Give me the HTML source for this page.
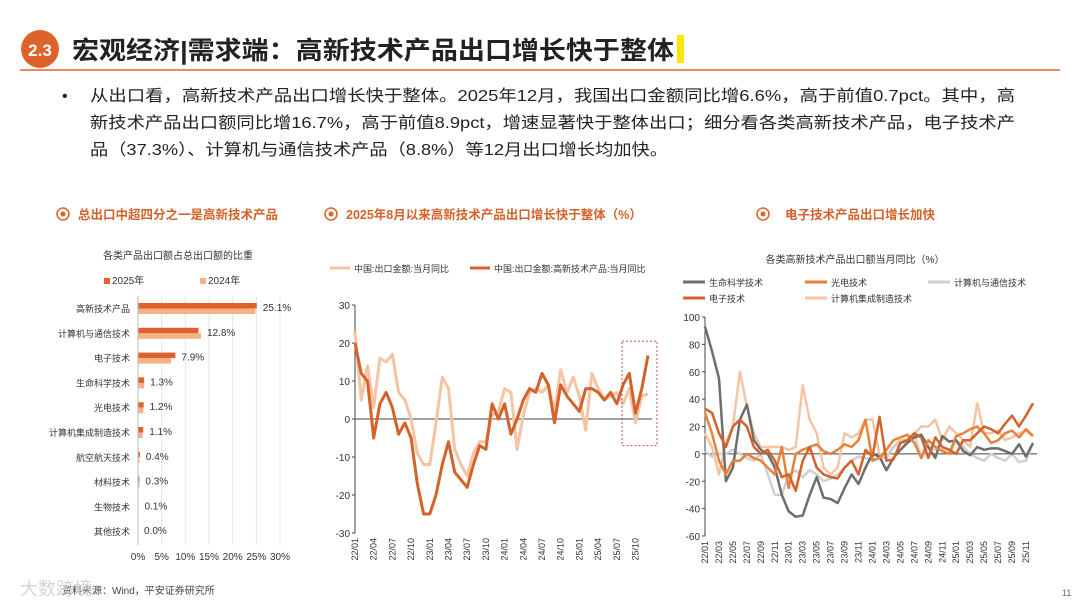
<!DOCTYPE html>
<html><head><meta charset="utf-8"><style>
html,body{margin:0;padding:0;background:#fff;}
svg{display:block;font-family:"Liberation Sans","Noto Sans CJK SC",sans-serif;}
</style></head><body>
<svg id="s" width="1080" height="608" viewBox="0 0 1080 608">
<g>
 <circle cx="40" cy="49" r="19" fill="#e0622b"/>
 <text x="40" y="56" font-size="17" font-weight="bold" fill="#fff" text-anchor="middle">2.3</text>
 <text x="72" y="59" font-size="25" font-weight="bold" fill="#222" textLength="602" lengthAdjust="spacingAndGlyphs">宏观经济|需求端：高新技术产品出口增长快于整体</text>
 <rect x="677" y="35" width="7" height="28" fill="#ffe600"/>
 <line x1="20" y1="70" x2="1060" y2="70" stroke="#e0622b" stroke-width="1.5"/>
</g>
<g font-size="16" fill="#222">
 <text x="62" y="101">•</text>
 <text x="90" y="101" textLength="925" lengthAdjust="spacingAndGlyphs">从出口看，高新技术产品出口增长快于整体。2025年12月，我国出口金额同比增6.6%，高于前值0.7pct。其中，高</text>
 <text x="90" y="128" textLength="925" lengthAdjust="spacingAndGlyphs">新技术产品出口额同比增16.7%，高于前值8.9pct，增速显著快于整体出口；细分看各类高新技术产品，电子技术产</text>
 <text x="90" y="155" textLength="578" lengthAdjust="spacingAndGlyphs">品（37.3%）、计算机与通信技术产品（8.8%）等12月出口增长均加快。</text>
</g>
<g font-size="12.5" font-weight="bold" fill="#d4622a">
 <circle cx="63" cy="214" r="6" fill="none" stroke="#e0622b" stroke-width="1.5"/><circle cx="63" cy="214" r="2.5" fill="#e0622b"/>
 <text x="78" y="219">总出口中超四分之一是高新技术产品</text>
 <circle cx="331" cy="214" r="6" fill="none" stroke="#e0622b" stroke-width="1.5"/><circle cx="331" cy="214" r="2.5" fill="#e0622b"/>
 <text x="346" y="219">2025年8月以来高新技术产品出口增长快于整体（%）</text>
 <circle cx="763" cy="214" r="6" fill="none" stroke="#e0622b" stroke-width="1.5"/><circle cx="763" cy="214" r="2.5" fill="#e0622b"/>
 <text x="785" y="219">电子技术产品出口增长加快</text>
</g>
<g id="left"></g>
<g id="mid"></g>
<g id="right"></g>
<g>
 <text x="62" y="594" font-size="10" fill="#444">资料来源：Wind，平安证券研究所</text>
 <text x="20" y="595" font-size="18" fill="#ccc" opacity="0.8">大数跨境</text>
 <text x="1062" y="596" font-size="9" fill="#666">11</text>
</g>
</svg>
<script>
const NS='http://www.w3.org/2000/svg';
function mk(p,t,a,txt){const e=document.createElementNS(NS,t);for(const k in a)e.setAttribute(k,a[k]);if(txt!==undefined)e.textContent=txt;p.appendChild(e);return e;}

// ---- Left bar chart data
const barCats=['高新技术产品','计算机与通信技术','电子技术','生命科学技术','光电技术','计算机集成制造技术','航空航天技术','材料技术','生物技术','其他技术'];
const bar2025=[25.1,12.8,7.9,1.3,1.2,1.1,0.4,0.3,0.1,0.0];
const bar2024=[24.8,13.3,7.0,1.3,1.1,1.0,0.3,0.3,0.1,0.0];
const barTicks=[0,5,10,15,20,25,30];

// ---- Middle chart data
const midCats=['22/01','22/04','22/07','22/10','23/01','23/04','23/07','23/10','24/01','24/04','24/07','24/10','25/01','25/04','25/07','25/10'];
const totalExport=[23,5,14,3,16,15,17,7,5,0,-9,-12,-12,-1,11,8,-8,-12,-15,-9,-6,-6,1,2,8,7,-8,1,7,8,7,9,2,13,7,11,6,-3,12,8,5,6,7,4,8,-1,6,6.6];
const hiTechExport=[20,12,10,-5,4,7,3,-4,-1,-5,-17,-25,-25,-20,-12,-6,-14,-16,-18,-12,-7,-8,4,0,4,-4,0,5,8,7,12,9,-1,9,6,4,2,8,8,7,5,7,4,9,12,1.5,8,16.7];
const midTicks=[-30,-20,-10,0,10,20,30];

// ---- Right chart data
const rightCats=['22/01','22/03','22/05','22/07','22/09','22/11','23/01','23/03','23/05','23/07','23/09','23/11','24/01','24/03','24/05','24/07','24/09','24/11','25/01','25/03','25/05','25/07','25/09','25/11'];
const lifeSci=[93,75,55,-20,-10,25,36,10,3,0,-10,-30,-42,-46,-45,-30,-17,-32,-33,-36,-25,-15,-22,-10,0,-2,-12,-3,3,8,12,14,5,-3,13,9,10,2,-1,5,3,4,4,2,0,7,-2,8];
const optoElec=[30,15,-5,-15,-5,-5,0,-3,-5,-10,-15,5,-25,0,3,5,7,2,0,3,7,5,10,25,-5,-3,3,10,12,14,8,-3,10,5,2,0,13,15,18,20,15,8,10,15,17,12,18,13];
const compComm=[2,-2,0,0,3,0,-3,-5,0,-15,-30,-30,-15,-12,-17,-12,-15,-20,-18,-15,-10,-5,-2,-3,-4,-3,-2,5,8,8,15,-3,5,3,3,0,10,5,0,-3,-5,0,-3,-5,0,-6,-5,8];
const electronics=[33,30,15,5,20,25,20,5,0,3,-5,-17,-15,-27,-5,5,-10,-15,-17,-18,-10,-5,-15,3,-2,27,-5,-4,8,10,15,12,-3,12,5,3,0,10,10,15,20,18,15,22,28,20,28,37];
const compMfg=[15,5,-15,8,20,60,35,15,5,5,5,5,3,5,50,25,15,-10,-15,-10,15,12,15,25,25,0,-3,5,10,10,15,20,20,25,10,20,15,10,5,37,15,15,17,10,12,15,17,13];
const rightTicks=[-60,-40,-20,0,20,40,60,80,100];

// ===== Left chart
(function(){
 const g=document.getElementById('left');
 const x0=138,x1=280,xmax=30,rowTop=308,rowH=24.8;
 const X=v=>x0+(x1-x0)*v/xmax;
 let t=mk(g,'text',{x:178,y:259,'font-size':10,fill:'#333','text-anchor':'middle'},'各类产品出口额占总出口额的比重');
 
 let r=mk(g,'rect',{x:104,y:278,width:6,height:6,fill:'#e0622b'});
 mk(g,'text',{x:112,y:284,'font-size':10,fill:'#333'},'2025年');
 r=mk(g,'rect',{x:200,y:278,width:6,height:6,fill:'#f4b183'});
 mk(g,'text',{x:208,y:284,'font-size':10,fill:'#333'},'2024年');
 barTicks.forEach(v=>{
  const l=mk(g,'line',{x1:X(v),x2:X(v),y1:296,y2:545,stroke:'#e6e6e6','stroke-width':1});
  
  const tt=mk(g,'text',{x:X(v),y:560,'font-size':10,fill:'#333','text-anchor':'middle'},v+'%');
  
 });
 barCats.forEach((c,i)=>{
  const cy=rowTop+i*rowH;
  const lb=mk(g,'text',{x:130,y:cy+4,'font-size':9,fill:'#333','text-anchor':'end'},c);
  
  const b1=mk(g,'rect',{x:x0,y:cy-5,width:Math.max(X(bar2025[i])-x0,0),height:5.5,fill:'#e0622b'});
  
  const b2=mk(g,'rect',{x:x0,y:cy+0.5,width:Math.max(X(bar2024[i])-x0,0),height:5.5,fill:'#f4b183'});
  
  const vl=mk(g,'text',{x:Math.max(X(bar2025[i]),X(bar2024[i]))+6,y:cy+3,'font-size':10,fill:'#333'},bar2025[i].toFixed(1)+'%');
  
 });
 mk(g,'line',{x1:x0,x2:x0,y1:296,y2:545,stroke:'#bbb'});
})();

function lineChart(g,opt){
 const {x0,x1,yTop,yBot,vmin,vmax,n}=opt;
 const X=i=>x0+(x1-x0)*i/(n-1);
 const Y=v=>yBot-(yBot-yTop)*(v-vmin)/(vmax-vmin);
 opt.ticks.forEach(v=>{
  const tt=mk(g,'text',{x:x0-5,y:Y(v)+4,'font-size':10,fill:'#333','text-anchor':'end'},String(v));
  
  mk(g,'line',{x1:x0-3,x2:x0,y1:Y(v),y2:Y(v),stroke:'#444'});
 });
 mk(g,'line',{x1:x0,x2:x0,y1:yTop,y2:yBot,stroke:'#444','stroke-width':1});
 mk(g,'line',{x1:x0,x2:x1+4,y1:Y(0),y2:Y(0),stroke:'#444','stroke-width':1});
 opt.cats.forEach((c,k)=>{
  const i=k*opt.step, xx=X(i);
  const tt=mk(g,'text',{x:0,y:0,'font-size':9,fill:'#333','text-anchor':'end',transform:`translate(${xx+3},${yBot+5}) rotate(-90)`},c);
  
 });
 opt.series.forEach(s=>{
  let d='';s.data.forEach((v,i)=>{d+=(i?'L':'M')+X(i).toFixed(1)+','+Y(v).toFixed(1);});
  const p=mk(g,'path',{d:d,fill:'none',stroke:s.color,'stroke-width':s.w,'stroke-linejoin':'round'});
  
 });
 return {X,Y};
}

// ===== Middle chart
(function(){
 const g=document.getElementById('mid');
 const lg=[[330,'#f5c4a3','中国:出口金额:当月同比'],[470,'#d4622a','中国:出口金额:高新技术产品:当月同比']];
 lg.forEach(l=>{
  const e=mk(g,'line',{x1:l[0],x2:l[0]+20,y1:268,y2:268,stroke:l[1],'stroke-width':3});
  
  mk(g,'text',{x:l[0]+24,y:272,'font-size':9,fill:'#333'},l[2]);
 });
 const a=lineChart(g,{x0:355,x1:648,yTop:305,yBot:533,vmin:-30,vmax:30,n:totalExport.length,ticks:midTicks,cats:midCats,step:3,
  series:[{data:totalExport,color:'#f5c4a3',w:3,name:'series-total-export'},{data:hiTechExport,color:'#d4622a',w:3,name:'series-hitech-export'}]});
 const bx=a.X(43)-1;
 const r=mk(g,'rect',{x:bx,y:a.Y(20.5),width:a.X(47)-bx+9,height:a.Y(-7)-a.Y(20.5),fill:'none',stroke:'#c0504d','stroke-dasharray':'2,2'});
 
})();

// ===== Right chart
(function(){
 const g=document.getElementById('right');
 mk(g,'text',{x:855,y:263,'font-size':10,fill:'#333','text-anchor':'middle'},'各类高新技术产品出口额当月同比（%）');
 const lg=[[683,282,'#6e6e6e','生命科学技术'],[805,282,'#e8823a','光电技术'],[928,282,'#d0d0d0','计算机与通信技术'],[683,298,'#d4622a','电子技术'],[805,298,'#f5c4a3','计算机集成制造技术']];
 lg.forEach(l=>{
  const e=mk(g,'line',{x1:l[0],x2:l[0]+22,y1:l[1],y2:l[1],stroke:l[2],'stroke-width':3});
  
  mk(g,'text',{x:l[0]+26,y:l[1]+4,'font-size':9,fill:'#333'},l[3]);
 });
 lineChart(g,{x0:705,x1:1033,yTop:317,yBot:536,vmin:-60,vmax:100,n:lifeSci.length,ticks:rightTicks,cats:rightCats,step:2,
  series:[{data:compMfg,color:'#f5c4a3',w:2.5,name:'series-computer-mfg'},
          {data:compComm,color:'#d0d0d0',w:2.5,name:'series-computer-comm'},
          {data:lifeSci,color:'#6e6e6e',w:2.5,name:'series-life-science'},
          {data:optoElec,color:'#e8823a',w:2.5,name:'series-optoelectronics'},
          {data:electronics,color:'#d4622a',w:2.5,name:'series-electronics'}]});
})();
</script>
</body></html>
